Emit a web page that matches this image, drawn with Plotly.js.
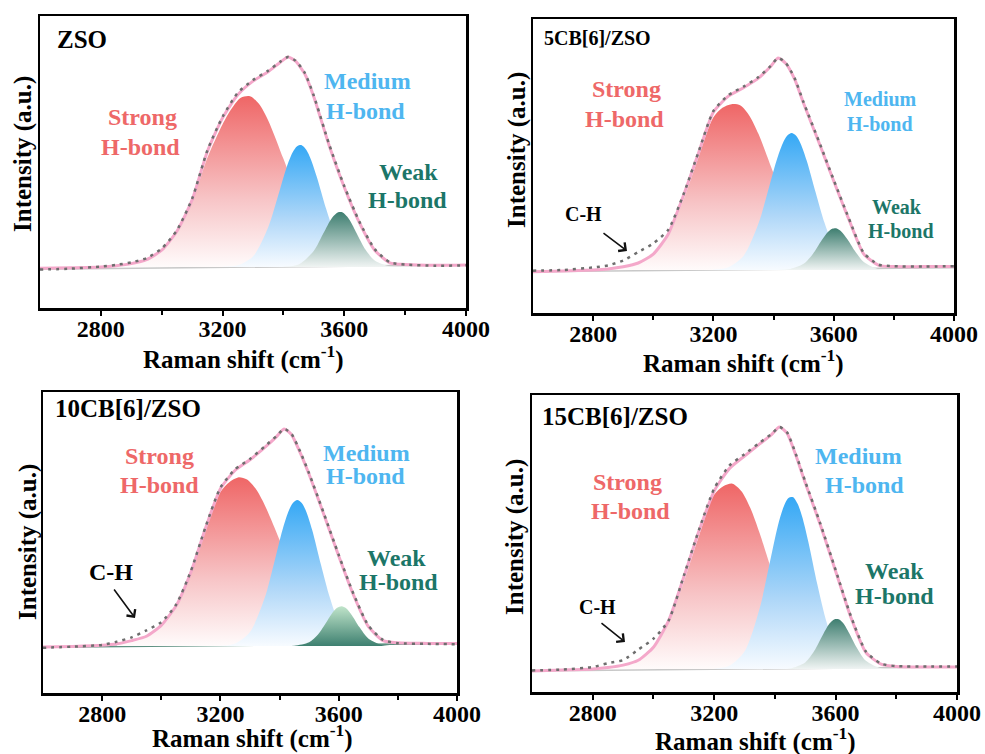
<!DOCTYPE html>
<html><head><meta charset="utf-8">
<script src="https://cdn.plot.ly/plotly-3.0.1.min.js"></script>
<style>html,body{margin:0;padding:0;background:#fff;}#chart{width:985px;height:754px;}</style>
</head><body><div id="chart"></div>
<script>
// ---------------- data ----------------
const X_TICKS = [2800, 3200, 3600, 4000];
const X_MINOR_TICKS = [3000, 3400, 3800];
const PANEL_LABELS = ['ZSO', '5CB[6]/ZSO', '10CB[6]/ZSO', '15CB[6]/ZSO'];
const COMPONENT_NAMES = ['Strong', 'Medium', 'Weak'];
const BOND_TEXT = 'H-bond';
const CH_TEXT = 'C-H';

const X_ENV = [2600,2700,2800,2850,2900,2950,3000,3050,3100,3150,3200,3250,3300,3350,3390,3415,3440,3470,3500,3550,3600,3650,3700,3750,3800,3900,4000];
const ZSO_FIT   = [-0.006,-0.004,0.0,0.006,0.016,0.035,0.08,0.17,0.32,0.55,0.71,0.82,0.885,0.93,0.975,1.0,0.98,0.92,0.81,0.58,0.38,0.21,0.08,0.02,0.012,0.008,0.01];
const ZSO_DATA  = [-0.012,-0.008,0.002,0.01,0.022,0.042,0.088,0.175,0.325,0.555,0.715,0.83,0.89,0.935,0.978,1.0,0.982,0.925,0.815,0.585,0.385,0.215,0.085,0.022,0.012,0.006,0.008];
const CB5_FIT   = [-0.008,-0.005,0.0,0.005,0.015,0.033,0.075,0.17,0.35,0.55,0.745,0.82,0.86,0.905,0.96,1.0,0.975,0.9,0.785,0.605,0.42,0.24,0.075,0.022,0.016,0.016,0.016];
const CB5_DATA  = [-0.003,0.0,0.012,0.022,0.045,0.085,0.125,0.19,0.355,0.555,0.75,0.825,0.865,0.91,0.962,1.0,0.978,0.905,0.79,0.61,0.425,0.245,0.08,0.025,0.018,0.016,0.018];
const CB10_FIT  = [-0.005,-0.002,0.003,0.01,0.025,0.045,0.095,0.185,0.34,0.545,0.725,0.81,0.858,0.915,0.965,1.0,0.975,0.89,0.79,0.605,0.415,0.235,0.09,0.025,0.015,0.012,0.011];
const CB10_DATA = [-0.008,-0.003,0.005,0.02,0.04,0.072,0.11,0.19,0.345,0.55,0.73,0.815,0.862,0.92,0.968,1.0,0.978,0.895,0.795,0.61,0.42,0.24,0.095,0.028,0.013,0.01,0.008];
const CB15_FIT  = [-0.008,-0.004,0.0,0.006,0.016,0.036,0.09,0.2,0.38,0.57,0.735,0.828,0.88,0.93,0.97,1.0,0.975,0.88,0.77,0.595,0.405,0.215,0.068,0.02,0.01,0.008,0.008];
const CB15_DATA = [-0.006,-0.002,0.008,0.024,0.037,0.08,0.125,0.2,0.385,0.575,0.745,0.84,0.888,0.935,0.972,1.0,0.978,0.885,0.775,0.6,0.41,0.22,0.072,0.022,0.012,0.01,0.01];

const X_STRONG    = [2850,2900,2950,3000,3050,3100,3150,3200,3230,3260,3290,3320,3350,3400,3450,3500,3550,3600,3650,3700];
const ZSO_STRONG  = [0.004,0.012,0.03,0.072,0.16,0.31,0.52,0.68,0.755,0.806,0.813,0.776,0.698,0.515,0.324,0.173,0.079,0.031,0.010,0.003];
const CB5_STRONG  = [0.004,0.01,0.028,0.068,0.16,0.33,0.53,0.72,0.765,0.782,0.776,0.727,0.641,0.456,0.275,0.141,0.061,0.022,0.007,0.002];
const CB10_STRONG = [0.006,0.018,0.038,0.085,0.175,0.33,0.53,0.71,0.755,0.777,0.767,0.723,0.649,0.489,0.323,0.187,0.095,0.042,0.017,0.006];
const CB15_STRONG = [0.004,0.012,0.03,0.082,0.19,0.36,0.55,0.72,0.755,0.766,0.735,0.663,0.561,0.368,0.203,0.094,0.036,0.012,0.003,0.001];

const X_MEDIUM    = [3200,3250,3300,3350,3380,3410,3430,3445,3460,3475,3490,3510,3540,3570,3600,3650,3700,3750];
const ZSO_MEDIUM  = [0.001,0.008,0.050,0.189,0.327,0.473,0.545,0.575,0.580,0.558,0.513,0.427,0.278,0.151,0.068,0.012,0.001,0];
const CB5_MEDIUM  = [0.002,0.013,0.066,0.220,0.366,0.517,0.596,0.633,0.646,0.633,0.596,0.517,0.366,0.220,0.113,0.026,0.004,0];
const CB10_MEDIUM = [0.001,0.012,0.065,0.223,0.375,0.536,0.620,0.659,0.673,0.659,0.620,0.536,0.375,0.223,0.112,0.025,0.003,0];
const CB15_MEDIUM = [0.001,0.013,0.072,0.251,0.420,0.592,0.674,0.707,0.710,0.683,0.629,0.527,0.349,0.195,0.091,0.018,0.002,0];

const X_WEAK    = [3400,3450,3500,3530,3560,3580,3595,3610,3625,3645,3670,3700,3750,3800];
const ZSO_WEAK  = [0.001,0.012,0.077,0.157,0.235,0.261,0.260,0.239,0.205,0.148,0.082,0.031,0.003,0];
const CB5_WEAK  = [0,0.003,0.029,0.074,0.140,0.178,0.194,0.196,0.182,0.146,0.091,0.038,0.004,0];
const CB10_WEAK = [0,0.001,0.017,0.053,0.113,0.155,0.176,0.183,0.174,0.141,0.087,0.035,0.003,0];
const CB15_WEAK = [0,0.002,0.027,0.075,0.146,0.188,0.205,0.206,0.190,0.148,0.088,0.034,0.003,0];

const X_BASE    = [2600, 4000];
const ZSO_BASE  = [-0.011, 0.010];
const CB5_BASE  = [-0.008, 0.011];
const CB10_BASE = [-0.005, 0.011];
const CB15_BASE = [-0.008, 0.008];

// ---------------- layout / styling ----------------
const W = 985, H = 754;
const FONT = 'Liberation Serif';
const RED = 'rgb(238,104,104)', BLUE = 'rgb(78,182,240)', TEAL = 'rgb(28,118,104)';

const panels = [
  {fit: ZSO_FIT,  data: ZSO_DATA,  strong: ZSO_STRONG,  medium: ZSO_MEDIUM,  weak: ZSO_WEAK,  base: ZSO_BASE,
   box: [40, 16, 466, 308], y0: 267, y1: 57, weakInv: false},
  {fit: CB5_FIT,  data: CB5_DATA,  strong: CB5_STRONG,  medium: CB5_MEDIUM,  weak: CB5_WEAK,  base: CB5_BASE,
   box: [533, 19, 954, 313], y0: 270, y1: 58, weakInv: false},
  {fit: CB10_FIT, data: CB10_DATA, strong: CB10_STRONG, medium: CB10_MEDIUM, weak: CB10_WEAK, base: CB10_BASE,
   box: [43, 392, 457, 693], y0: 646, y1: 429, weakInv: true},
  {fit: CB15_FIT, data: CB15_DATA, strong: CB15_STRONG, medium: CB15_MEDIUM, weak: CB15_WEAK, base: CB15_BASE,
   box: [532, 395, 957, 692], y0: 669, y1: 427, weakInv: false}
];

// text placement in pixels: [component, x, y, size, isBondLine]
const textPos = [
  [[0,142,117,24],[0,140,147,24,1],[1,367,81,24],[1,365,111,24,1],[2,408,172,24],[2,407,200,24,1]],
  [[0,626,89,24],[0,624,119,24,1],[1,880,99,20],[1,880,124,20,1],[2,897,207,20],[2,901,231,20,1]],
  [[0,159,456,24],[0,159,485,24,1],[1,366,453,24],[1,365,476,24,1],[2,396,558,24],[2,398,582,24,1]],
  [[0,627,482,24],[0,630,511,24,1],[1,858,456,24],[1,864,485,24,1],[2,894,571,24],[2,894,596,24,1]]
];
const labelPos = [[55,40,25],[542,38,20],[53,408,25],[540,417,25]];
const xTitlePos = [[243,357],[743,361],[252,736],[755,739]];
const yTitlePos = [[23,154],[517,150],[28,542],[515,537]];
const chPos = [null, {t:[583,214,20], a:[602,232,627,251]}, {t:[111,572,24], a:[113,588,135,618]}, {t:[597,607,20], a:[600,622,625,642]}];

const px = (x) => x / W, py = (y) => 1 - y / H;
const colors = [RED, BLUE, TEAL];

const traces = [];
const layout = {
  width: W, height: H, margin: {l:0, r:0, t:0, b:0},
  paper_bgcolor: '#fff', plot_bgcolor: '#fff', showlegend: false, hovermode: false,
  annotations: []
};

panels.forEach((p, i) => {
  const n = i === 0 ? '' : String(i + 1);
  const xa = 'x' + n, ya = 'y' + n;
  const [L, T, R, B] = p.box;
  const unit = p.y0 - p.y1;
  const yr = [-(B - p.y0) / unit, 1 + (p.y1 - T) / unit];

  layout['xaxis' + n] = {
    domain: [px(L), px(R)], anchor: ya, range: [2600, 4000],
    tickmode: 'array', tickvals: X_TICKS, ticktext: X_TICKS.map(v => '<b>' + v + '</b>'),
    ticks: 'outside', ticklen: 5, tickwidth: 2, tickcolor: '#000', ticklabelstandoff: -7,
    minor: {tickmode: 'array', tickvals: X_MINOR_TICKS, ticks: 'outside', ticklen: 4, tickwidth: 2, tickcolor: '#000', showgrid: false},
    showline: true, linewidth: 2.5, linecolor: '#000', mirror: true,
    showgrid: false, zeroline: false,
    tickfont: {family: FONT, size: 24, color: '#000', weight: 'bold'}
  };
  layout['yaxis' + n] = {
    domain: [py(B), py(T)], anchor: xa, range: yr,
    showticklabels: false, ticks: '', showline: true, linewidth: 2.5, linecolor: '#000', mirror: true,
    showgrid: false, zeroline: false
  };

  const common = {xaxis: xa, yaxis: ya, hoverinfo: 'skip', showlegend: false};
  traces.push(Object.assign({x: X_BASE, y: p.base, mode: 'lines',
    line: {color: p.weakInv ? 'rgb(95,145,130)' : 'rgb(200,200,200)', width: 1.6}}, common));
  traces.push(Object.assign({x: X_STRONG, y: p.strong, mode: 'lines', fill: 'tozeroy',
    line: {width: 0, shape: 'spline', smoothing: 0.8},
    fillgradient: {type: 'vertical', colorscale: [[0, 'rgb(255,251,251)'], [0.4, 'rgb(247,196,198)'], [1, 'rgb(239,102,102)']]}}, common));
  traces.push(Object.assign({x: X_MEDIUM, y: p.medium, mode: 'lines', fill: 'tozeroy',
    line: {width: 0, shape: 'spline', smoothing: 0.8},
    fillgradient: {type: 'vertical', colorscale: [[0, 'rgb(247,251,255)'], [0.4, 'rgb(175,215,248)'], [1, 'rgb(52,168,245)']]}}, common));
  traces.push(Object.assign({x: X_WEAK, y: p.weak, mode: 'lines', fill: 'tozeroy',
    line: {width: 0, shape: 'spline', smoothing: 0.8},
    fillgradient: {type: 'vertical', colorscale: p.weakInv
      ? [[0, 'rgb(62,128,112)'], [1, 'rgb(192,228,202)']]
      : [[0, 'rgb(240,244,243)'], [1, 'rgb(62,126,112)']]}}, common));
  traces.push(Object.assign({x: X_ENV, y: p.fit, mode: 'lines',
    line: {color: 'rgb(244,168,202)', width: 3, shape: 'spline', smoothing: 0.6}}, common));
  traces.push(Object.assign({x: X_ENV, y: p.data, mode: 'lines',
    line: {color: 'rgb(110,110,110)', width: 2.5, dash: '3px,5px', shape: 'spline', smoothing: 0.6}}, common));

  textPos[i].forEach(([c, x, y, s, b]) => {
    layout.annotations.push({xref: 'paper', yref: 'paper', x: px(x), y: py(y),
      xanchor: 'center', yanchor: 'middle', showarrow: false,
      text: '<b>' + (b ? BOND_TEXT : COMPONENT_NAMES[c]) + '</b>',
      font: {family: FONT, size: s, color: colors[c]}});
  });
  const [lx, ly, ls] = labelPos[i];
  layout.annotations.push({xref: 'paper', yref: 'paper', x: px(lx), y: py(ly), xanchor: 'left', yanchor: 'middle',
    showarrow: false, text: '<b>' + PANEL_LABELS[i] + '</b>', font: {family: FONT, size: ls, color: '#000'}});
  layout.annotations.push({xref: 'paper', yref: 'paper', x: px(xTitlePos[i][0]), y: py(xTitlePos[i][1]),
    xanchor: 'center', yanchor: 'middle', showarrow: false,
    text: '<b>Raman shift (cm<sup>-1</sup>)</b>', font: {family: FONT, size: 25, color: '#000'}});
  layout.annotations.push({xref: 'paper', yref: 'paper', x: px(yTitlePos[i][0]), y: py(yTitlePos[i][1]),
    xanchor: 'center', yanchor: 'middle', showarrow: false, textangle: -90,
    text: '<b>Intensity (a.u.)</b>', font: {family: FONT, size: 25, color: '#000'}});
  const ch = chPos[i];
  if (ch) {
    layout.annotations.push({xref: 'paper', yref: 'paper', x: px(ch.t[0]), y: py(ch.t[1]),
      xanchor: 'center', yanchor: 'middle', showarrow: false,
      text: '<b>' + CH_TEXT + '</b>', font: {family: FONT, size: ch.t[2], color: '#000'}});
    const [tx, ty, hx, hy] = ch.a;
    layout.annotations.push({xref: 'paper', yref: 'paper', x: px(hx), y: py(hy), ax: tx - hx, ay: ty - hy,
      text: '', showarrow: true, arrowhead: 4, arrowsize: 1.3, arrowwidth: 1.6, arrowcolor: '#111',
      standoff: 0, startstandoff: 0});
  }
});

Plotly.newPlot('chart', traces, layout, {staticPlot: true, displayModeBar: false});
</script></body></html>
